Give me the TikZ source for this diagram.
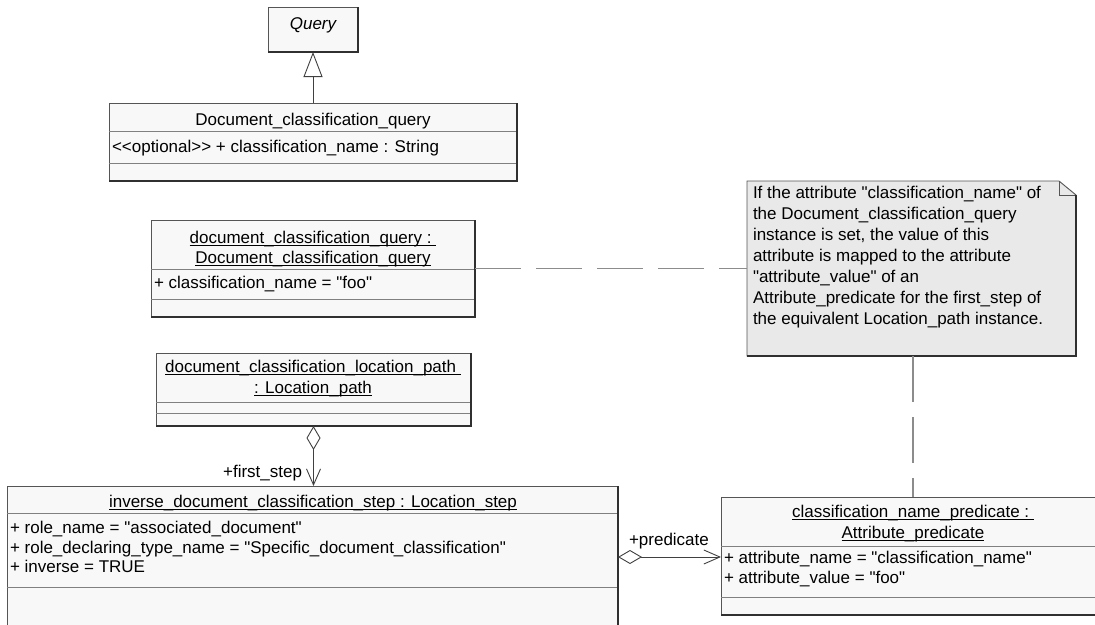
\documentclass[tikz,border=0pt]{standalone}
\usepackage{fontspec}
\setmainfont{Liberation Sans}[Ligatures=TeXOff]
\usetikzlibrary{arrows.meta,calc}
\definecolor{boxfill}{HTML}{F8F8F8}
\definecolor{notefill}{HTML}{E9E9E9}
\definecolor{edge}{HTML}{555555}
\definecolor{shadowc}{HTML}{303030}
\definecolor{divider}{HTML}{808080}
\definecolor{dashc}{HTML}{8C8C8C}
\definecolor{assoc}{HTML}{404040}
\newcommand\ulin[1]{\setbox0\hbox{#1}\rlap{\rule[-3pt]{\wd0}{1.2pt}}\box0}
\begin{document}
\begin{tikzpicture}[x=1pt,y=-1pt,
  every node/.style={inner sep=0pt, outer sep=0pt, font=\fontsize{17}{21}\selectfont},
  umlbox/.style={draw=edge, line width=0.9pt, fill=boxfill, rectangle, anchor=north west},
  sep/.style={draw=divider, line width=0.9pt},
  shadowl/.style={draw=shadowc, line width=1.8pt},
  nametext/.style={anchor=base},
  attrtext/.style={anchor=base west},
  notelink/.style={draw=dashc, line width=1.4pt, dash pattern=on 46pt off 15pt},
  gen/.style={draw=assoc, line width=0.9pt, -{Triangle[length=25pt,width=19pt,fill=white]}},
  aggr/.style={draw=assoc, line width=0.9pt, {Diamond[length=24pt,width=14pt,fill=white]}-{Straight Barb[length=16pt,width=14pt]}},
]
\useasboundingbox (0,0) rectangle (1095,624);
\clip (0,0) rectangle (1095,624);

% Query
\node[umlbox, minimum width=90pt, minimum height=45pt] (q) at (268,7) {};
\draw[shadowl] (q.north east) -- (q.south east) -- (q.south west);
\node[nametext] (qname) at (313,29) {\itshape Query};

% Document_classification_query
\node[umlbox, minimum width=408pt, minimum height=78pt] (dcq) at (109,103) {};
\draw[sep] (dcq.west |- 0,131) -- (dcq.east |- 0,131);
\draw[sep] (dcq.west |- 0,163) -- (dcq.east |- 0,163);
\draw[shadowl] (dcq.north east) -- (dcq.south east) -- (dcq.south west);
\node[nametext] (dcqname) at (313,125) {Document\_classification\_query};
\node[attrtext] (dcqattr) at (112,152) {<<optional>> + classification\_name : String};

% instance
\node[umlbox, minimum width=324pt, minimum height=97pt] (inst) at (151,220) {};
\draw[sep] (inst.west |- 0,269) -- (inst.east |- 0,269);
\draw[sep] (inst.west |- 0,299) -- (inst.east |- 0,299);
\draw[shadowl] (inst.north east) -- (inst.south east) -- (inst.south west);
\node[nametext] (instname1) at (313,243) {\ulin{document\_classification\_query :\ }};
\node[nametext] (instname2) at (313,263) {\ulin{Document\_classification\_query}};
\node[attrtext] (instattr) at (154,288) {+ classification\_name = "foo"};

% note
\node[minimum width=329pt, minimum height=175pt, anchor=north west] (note) at (747,181) {};
\draw[draw=edge, line width=0.9pt, fill=notefill] (note.north west) -- ([xshift=-17pt]note.north east) -- ([yshift=-14pt]note.north east) -- (note.south east) -- (note.south west) -- cycle;
\draw[draw=edge, line width=0.9pt] ([xshift=-17pt]note.north east) |- ([yshift=-14pt]note.north east);
\draw[shadowl] ([yshift=-14pt]note.north east) -- (note.south east) -- (note.south west);
\node[anchor=north west, align=left] (notetext) at (753,186.5) {If the attribute "classification\_name" of\\the Document\_classification\_query\\instance is set, the value of this\\attribute is mapped to the attribute\\"attribute\_value" of an\\Attribute\_predicate for the first\_step of\\the equivalent Location\_path instance.};

% location path
\node[umlbox, minimum width=315pt, minimum height=73pt] (lp) at (156,353) {};
\draw[sep] (lp.west |- 0,402) -- (lp.east |- 0,402);
\draw[sep] (lp.west |- 0,413) -- (lp.east |- 0,413);
\draw[shadowl] (lp.north east) -- (lp.south east) -- (lp.south west);
\node[nametext] (lpname1) at (313,372) {\ulin{document\_classification\_location\_path\ }};
\node[nametext] (lpname2) at (313,393) {\ulin{: Location\_path}};

% location step
\node[umlbox, minimum width=611pt, minimum height=142pt] (step) at (7,486) {};
\draw[sep] (step.west |- 0,513) -- (step.east |- 0,513);
\draw[sep] (step.west |- 0,587) -- (step.east |- 0,587);
\draw[shadowl] (step.north east) -- (step.south east) -- (step.south west);
\node[nametext] (stepname) at (313,507) {\ulin{inverse\_document\_classification\_step : Location\_step}};
\node[attrtext] (stepattr1) at (10,533) {+ role\_name = "associated\_document"};
\node[attrtext] (stepattr2) at (10,553) {+ role\_declaring\_type\_name = "Specific\_document\_classification"};
\node[attrtext] (stepattr3) at (10,572) {+ inverse = TRUE};

% attribute predicate
\node[umlbox, minimum width=384pt, minimum height=118pt] (pred) at (721,497) {};
\draw[sep] (pred.west |- 0,546) -- (pred.east |- 0,546);
\draw[sep] (pred.west |- 0,597) -- (pred.east |- 0,597);
\draw[shadowl] (pred.north east) -- (pred.south east) -- (pred.south west);
\node[nametext] (predname1) at (913,517) {\ulin{classification\_name\_predicate :\ }};
\node[nametext] (predname2) at (913,538) {\ulin{Attribute\_predicate}};
\node[attrtext] (predattr1) at (724,563) {+ attribute\_name = "classification\_name"};
\node[attrtext] (predattr2) at (724,583) {+ attribute\_value = "foo"};

% connectors
\draw[gen] (dcq.north) -- (q.south);
\draw[notelink] (inst.east) -- (note.west);
\draw[notelink] (note.south -| pred.north) -- (pred.north);
\draw[aggr] (lp.south) -- (lp.south |- step.north);
\draw[aggr] (step.east) -- (step.east -| pred.west);
\node[anchor=base east] (firststep) at (302,477) {+first\_step};
\node[anchor=base west] (predlabel) at (629,545) {+predicate};
\end{tikzpicture}
\end{document}
